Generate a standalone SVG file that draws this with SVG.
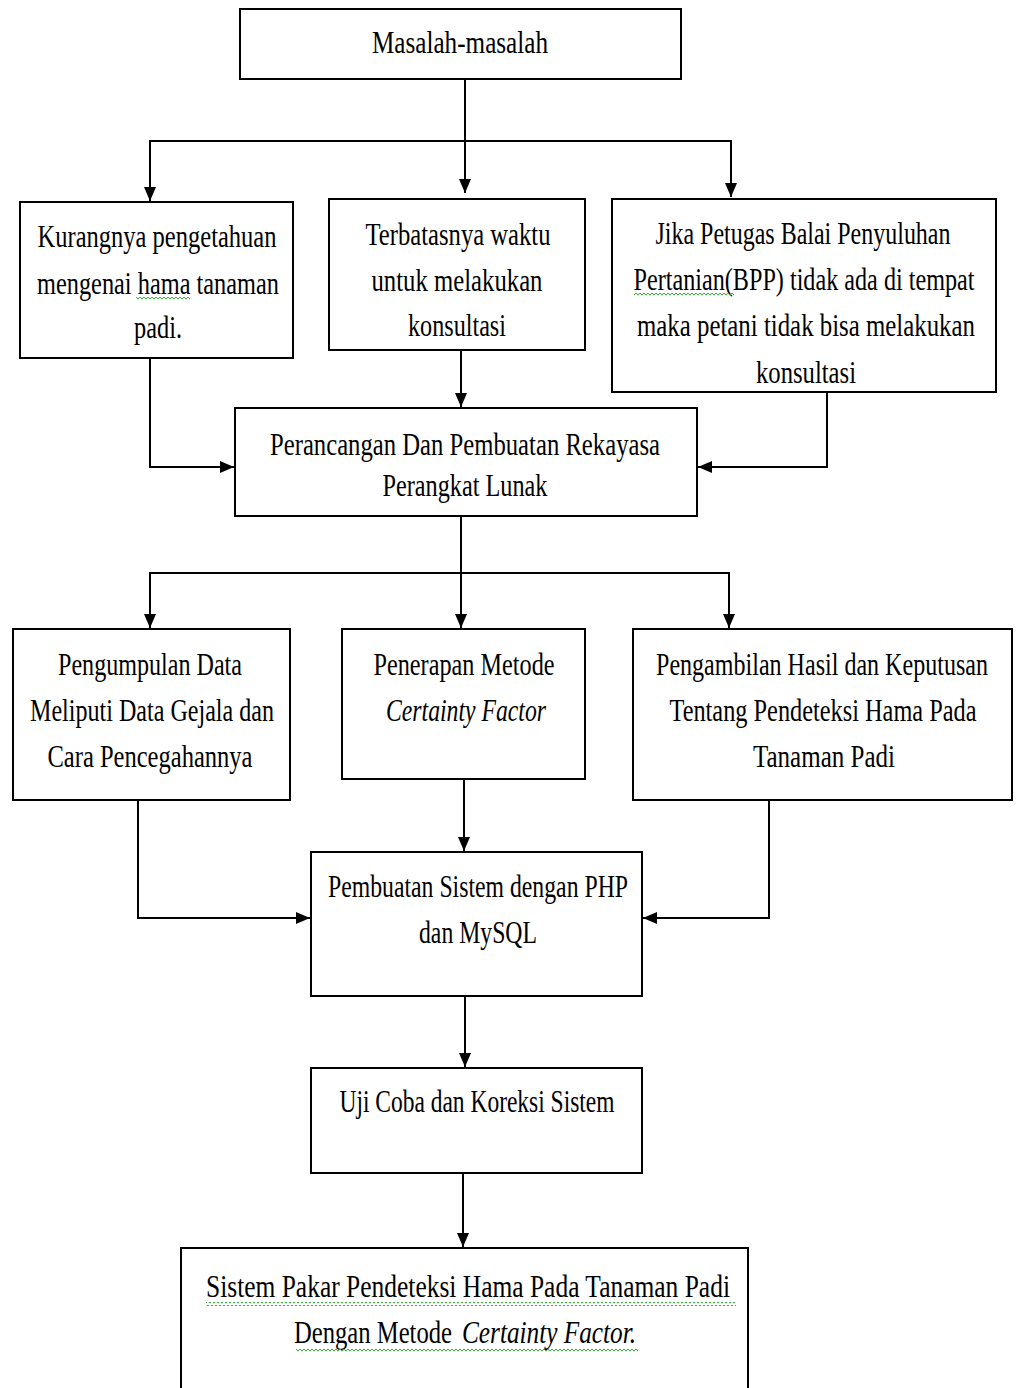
<svg xmlns="http://www.w3.org/2000/svg" width="1016" height="1388" viewBox="0 0 1016 1388">
<style>
.box{fill:#fff;stroke:#000;stroke-width:2}
.t{font-family:"Liberation Serif","Times New Roman",serif;font-size:32px;fill:#000;text-anchor:middle}
.s{text-anchor:start}
.i{font-style:italic}
.c{fill:none;stroke:#000;stroke-width:2}
.sq{fill:url(#squig)}
</style>
<defs>
<marker id="ah" markerUnits="userSpaceOnUse" markerWidth="14" markerHeight="12" refX="14" refY="6" orient="auto">
<path d="M0,0 L14,6 L0,12 Z" fill="#000"/>
</marker>
<pattern id="squig" patternUnits="userSpaceOnUse" width="4" height="4">
<path d="M0,0.8 L2,3.2 L4,0.8" fill="none" stroke="#3c9c3c" stroke-width="1"/>
</pattern>
</defs>

<g id="connectors">
<path class="c" d="M465,79 V193" marker-end="url(#ah)"/>
<path class="c" d="M150,199 V141 H731 V197" marker-end="url(#ah)"/>
<path class="c" d="M150,141 V201" marker-end="url(#ah)"/>
<path class="c" d="M150,358 V467 H234" marker-end="url(#ah)"/>
<path class="c" d="M461,350 V407" marker-end="url(#ah)"/>
<path class="c" d="M827,392 V467 H698" marker-end="url(#ah)"/>
<path class="c" d="M461,516 V628" marker-end="url(#ah)"/>
<path class="c" d="M150,573 H729 V628" marker-end="url(#ah)"/>
<path class="c" d="M150,572 V628" marker-end="url(#ah)"/>
<path class="c" d="M138,800 V918 H310" marker-end="url(#ah)"/>
<path class="c" d="M464,779 V851" marker-end="url(#ah)"/>
<path class="c" d="M769,800 V918 H643" marker-end="url(#ah)"/>
<path class="c" d="M465,996 V1067" marker-end="url(#ah)"/>
<path class="c" d="M463,1173 V1247" marker-end="url(#ah)"/>
</g>

<g id="n1">
<rect class="box" x="240" y="9" width="441" height="70"/>
<text class="t" transform="matrix(0.78 0 0 1 101.2 0)" x="460" y="53" textLength="225.6" lengthAdjust="spacingAndGlyphs">Masalah-masalah</text>
</g>

<g id="n2">
<rect class="box" x="20" y="202" width="273" height="156"/>
<text class="t" transform="matrix(0.78 0 0 1 34.54 0)" x="157" y="247" textLength="306.4" lengthAdjust="spacingAndGlyphs">Kurangnya pengetahuan</text>
<text class="t" transform="matrix(0.78 0 0 1 34.76 0)" x="158" y="294" textLength="310.3" lengthAdjust="spacingAndGlyphs">mengenai hama tanaman</text>
<text class="t" transform="matrix(0.78 0 0 1 34.76 0)" x="158" y="338" textLength="61.5" lengthAdjust="spacingAndGlyphs">padi.</text>
<rect class="sq" x="136" y="297" width="54" height="4"/>
</g>

<g id="n3">
<rect class="box" x="329" y="199" width="256" height="151"/>
<text class="t" transform="matrix(0.78 0 0 1 100.76 0)" x="458" y="245" textLength="237.2" lengthAdjust="spacingAndGlyphs">Terbatasnya waktu</text>
<text class="t" transform="matrix(0.78 0 0 1 100.54 0)" x="457" y="291" textLength="219.2" lengthAdjust="spacingAndGlyphs">untuk melakukan</text>
<text class="t" transform="matrix(0.78 0 0 1 100.54 0)" x="457" y="336" textLength="125.6" lengthAdjust="spacingAndGlyphs">konsultasi</text>
</g>

<g id="n4">
<rect class="box" x="612" y="199" width="384" height="193"/>
<text class="t" transform="matrix(0.78 0 0 1 176.66 0)" x="803" y="244" textLength="378.2" lengthAdjust="spacingAndGlyphs">Jika Petugas Balai Penyuluhan</text>
<text class="t" transform="matrix(0.78 0 0 1 176.88 0)" x="804" y="290" textLength="437.2" lengthAdjust="spacingAndGlyphs">Pertanian(BPP) tidak ada di tempat</text>
<text class="t" transform="matrix(0.78 0 0 1 177.32 0)" x="806" y="336" textLength="433.3" lengthAdjust="spacingAndGlyphs">maka petani tidak bisa melakukan</text>
<text class="t" transform="matrix(0.78 0 0 1 177.32 0)" x="806" y="383" textLength="128.2" lengthAdjust="spacingAndGlyphs">konsultasi</text>
<rect class="sq" x="634" y="293" width="100" height="4"/>
</g>

<g id="n5">
<rect class="box" x="235" y="408" width="462" height="108"/>
<text class="t" transform="matrix(0.78 0 0 1 102.3 0)" x="465" y="455" textLength="500" lengthAdjust="spacingAndGlyphs">Perancangan Dan Pembuatan Rekayasa</text>
<text class="t" transform="matrix(0.78 0 0 1 102.3 0)" x="465" y="496" textLength="211.5" lengthAdjust="spacingAndGlyphs">Perangkat Lunak</text>
</g>

<g id="n6">
<rect class="box" x="13" y="629" width="277" height="171"/>
<text class="t" transform="matrix(0.78 0 0 1 33 0)" x="150" y="675" textLength="235.9" lengthAdjust="spacingAndGlyphs">Pengumpulan Data</text>
<text class="t" transform="matrix(0.78 0 0 1 33.44 0)" x="152" y="721" textLength="312.8" lengthAdjust="spacingAndGlyphs">Meliputi Data Gejala dan</text>
<text class="t" transform="matrix(0.78 0 0 1 33 0)" x="150" y="767" textLength="262.8" lengthAdjust="spacingAndGlyphs">Cara Pencegahannya</text>
</g>

<g id="n7">
<rect class="box" x="342" y="629" width="243" height="150"/>
<text class="t" transform="matrix(0.78 0 0 1 102.08 0)" x="464" y="675" textLength="232.1" lengthAdjust="spacingAndGlyphs">Penerapan Metode</text>
<text class="t i" transform="matrix(0.78 0 0 1 102.52 0)" x="466" y="721" textLength="205.1" lengthAdjust="spacingAndGlyphs">Certainty Factor</text>
</g>

<g id="n8">
<rect class="box" x="633" y="629" width="379" height="171"/>
<text class="t" transform="matrix(0.78 0 0 1 180.84 0)" x="822" y="675" textLength="425.6" lengthAdjust="spacingAndGlyphs">Pengambilan Hasil dan Keputusan</text>
<text class="t" transform="matrix(0.78 0 0 1 181.06 0)" x="823" y="721" textLength="393.6" lengthAdjust="spacingAndGlyphs">Tentang Pendeteksi Hama Pada</text>
<text class="t" transform="matrix(0.78 0 0 1 181.28 0)" x="824" y="767" textLength="182.1" lengthAdjust="spacingAndGlyphs">Tanaman Padi</text>
</g>

<g id="n9">
<rect class="box" x="311" y="852" width="331" height="144"/>
<text class="t" transform="matrix(0.78 0 0 1 105.16 0)" x="478" y="897" textLength="384.6" lengthAdjust="spacingAndGlyphs">Pembuatan Sistem dengan PHP</text>
<text class="t" transform="matrix(0.78 0 0 1 105.16 0)" x="478" y="943" textLength="151.3" lengthAdjust="spacingAndGlyphs">dan MySQL</text>
</g>

<g id="n10">
<rect class="box" x="311" y="1068" width="331" height="105"/>
<text class="t" transform="matrix(0.78 0 0 1 104.94 0)" x="477" y="1112" textLength="352.6" lengthAdjust="spacingAndGlyphs">Uji Coba dan Koreksi Sistem</text>
</g>

<g id="n11">
<rect class="box" x="181" y="1248" width="567" height="145"/>
<text class="t" transform="matrix(0.78 0 0 1 102.96 0)" x="468" y="1297" textLength="671.8" lengthAdjust="spacingAndGlyphs">Sistem Pakar Pendeteksi  Hama Pada Tanaman  Padi</text>
<text class="t s" transform="matrix(0.78 0 0 1 64.68 0)" x="294" y="1343" textLength="202.6" lengthAdjust="spacingAndGlyphs">Dengan Metode</text>
<text class="t s i" transform="matrix(0.78 0 0 1 101.64 0)" x="462" y="1343" textLength="223.1" lengthAdjust="spacingAndGlyphs">Certainty Factor.</text>
<rect class="sq" x="206" y="1302" width="530" height="4"/>
<rect class="sq" x="296" y="1348" width="342" height="4"/>
</g>
</svg>
